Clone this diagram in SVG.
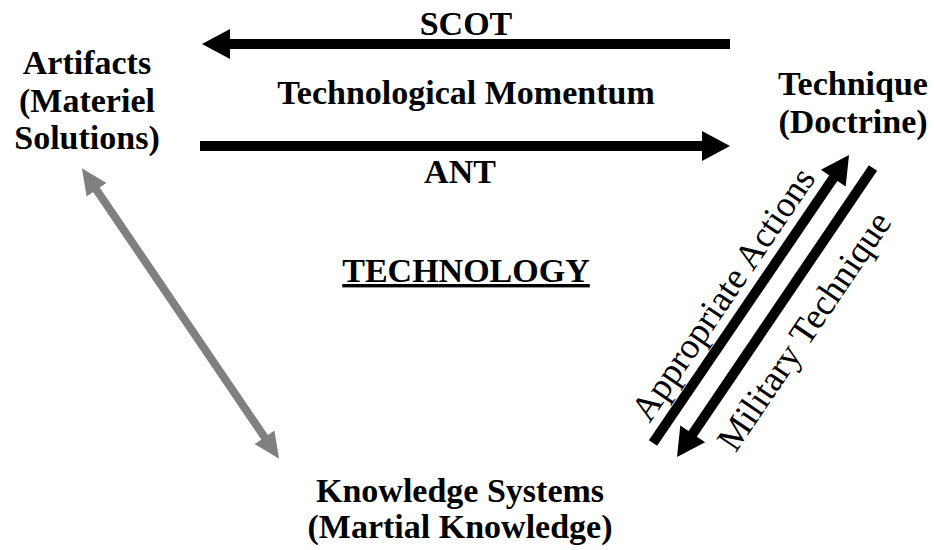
<svg xmlns="http://www.w3.org/2000/svg" width="934" height="550" viewBox="0 0 934 550">
<defs>
<style>
.t{font-family:"Liberation Serif","Times New Roman",serif;font-weight:bold;font-size:34px;fill:#000;text-anchor:middle}
.r{font-family:"Liberation Serif","Times New Roman",serif;font-size:36.5px;fill:#000;text-anchor:middle}
.bk{stroke:#000;stroke-width:10;fill:none}
.gy{stroke:#808080;stroke-width:8;fill:none}
</style>
<marker id="ab" markerUnits="userSpaceOnUse" markerWidth="30" markerHeight="30" refX="2" refY="15" orient="auto" viewBox="0 0 28 30">
<path d="M0,0 L28,15 L0,30 z" fill="#000"/>
</marker>
<marker id="ag" markerUnits="userSpaceOnUse" markerWidth="26" markerHeight="26" refX="2" refY="12" orient="auto-start-reverse" viewBox="0 0 26 24">
<path d="M0,0 L26,12 L0,24 z" fill="#808080"/>
</marker>
</defs>
<rect width="934" height="550" fill="#fff"/>
<g id="connectors">
<line class="bk" x1="730" y1="44" x2="228" y2="44" marker-end="url(#ab)"/>
<line class="bk" x1="200" y1="146" x2="704" y2="146" marker-end="url(#ab)"/>
<line class="gy" x1="95.4" y1="188.2" x2="265.6" y2="438.8" marker-start="url(#ag)" marker-end="url(#ag)"/>
<line class="bk" x1="653" y1="443" x2="834.4" y2="176.5" marker-end="url(#ab)"/>
<line class="bk" x1="873" y1="168" x2="691.6" y2="435.5" marker-end="url(#ab)"/>
<text class="t" x="466" y="35">SCOT</text>
<text class="t" x="466" y="104">Technological Momentum</text>
<text class="t" x="460" y="183">ANT</text>
<text class="r" transform="translate(733,301) rotate(-55.8)">Appropriate Actions</text>
<text class="r" transform="translate(814,338) rotate(-55.8)">Military Technique</text>
</g>
<g id="artifacts">
<text class="t" x="87" y="74">Artifacts</text>
<text class="t" x="87" y="112">(Materiel</text>
<text class="t" x="87" y="149">Solutions)</text>
</g>
<g id="technique">
<text class="t" x="853" y="95">Technique</text>
<text class="t" x="853" y="133">(Doctrine)</text>
</g>
<g id="knowledge">
<text class="t" x="460" y="502">Knowledge Systems</text>
<text class="t" x="460" y="538">(Martial Knowledge)</text>
</g>
<g id="technology">
<text class="t" x="466" y="282" text-decoration="underline">TECHNOLOGY</text>
</g>
</svg>
